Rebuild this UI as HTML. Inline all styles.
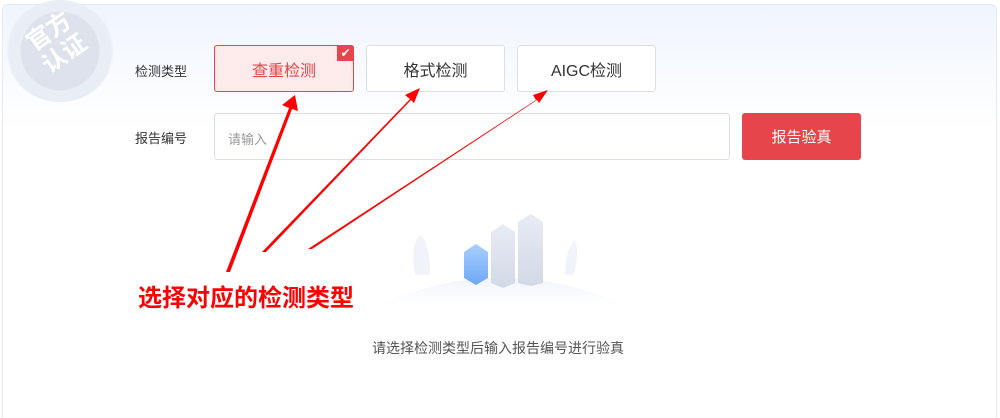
<!DOCTYPE html>
<html><head><meta charset="utf-8"><style>
html,body{margin:0;width:1000px;height:418px;overflow:hidden}
body{background:#fff;font-family:"Liberation Sans","Noto Sans CJK SC",sans-serif;position:relative}
.card{position:absolute;left:2px;top:4px;width:993px;height:414px;border:1px solid #e6eaf2;border-bottom:none;border-radius:6px 6px 0 0;background:linear-gradient(180deg,#f0f5fd 0%,#fff 30%)}
.abs{position:absolute}
.lbl{font-size:13px;color:#333}
.btn{position:absolute;top:45px;height:47px;border:1px solid #dcdfe6;border-radius:3px;background:#fff;font-size:16px;color:#333;display:flex;align-items:center;justify-content:center;box-sizing:border-box}
</style></head><body>
<div class="card"></div>
<div class="abs" style="left:5px;top:0px;width:110px;height:102px;border-radius:50%;background:radial-gradient(circle,#dde2ed 0 52%,#e9edf5 53% 68%,rgba(240,243,249,0) 72%)"></div>
<div class="abs" style="left:22px;top:16px;font-size:24px;color:#fff;font-weight:bold;transform:rotate(-35deg);line-height:27px;width:70px;text-align:center">官方<br>认证</div>
<div class="abs lbl" style="left:135px;top:61px">检测类型</div>
<div class="abs lbl" style="left:135px;top:128px">报告编号</div>
<div class="btn" style="left:214px;width:140px;background:#fdeaea;border-color:#e5454b;color:#e5454b">查重检测</div>
<div class="abs" style="left:337px;top:45px;width:17px;height:16px;background:#e5454b;border-radius:0 3px 0 0;color:#fff;font-size:12px;line-height:16px;text-align:center">✔</div>
<div class="btn" style="left:366px;width:139px">格式检测</div>
<div class="btn" style="left:517px;width:139px">AIGC检测</div>
<div class="abs" style="left:214px;top:113px;width:516px;height:47px;border:1px solid #dcdfe6;border-radius:3px;box-sizing:border-box;font-size:13px;color:#999;padding:15px 13px">请输入</div>
<div class="abs" style="left:742px;top:113px;width:119px;height:47px;background:#e5454b;border-radius:3px;color:#fff;font-size:15px;display:flex;align-items:center;justify-content:center">报告验真</div>
<svg class="abs" style="left:0;top:0" width="1000" height="418">
<defs><linearGradient id="g1" x1="0" y1="0" x2="0" y2="1"><stop offset="0" stop-color="#a9cfff"/><stop offset="1" stop-color="#6fa8f5"/></linearGradient>
<linearGradient id="g2" x1="0" y1="0" x2="0" y2="1"><stop offset="0" stop-color="#e8ecf5"/><stop offset="1" stop-color="#d2d8e6"/></linearGradient>
<linearGradient id="g3" x1="0" y1="0" x2="0" y2="1"><stop offset="0" stop-color="#f1f4fa"/><stop offset="1" stop-color="#fff"/></linearGradient></defs>
<path d="M380 305 Q500 250 625 305 Z" fill="url(#g3)"/>
<path d="M415 275 q-5 -30 5 -40 q10 5 10 40z" fill="#f0f3f9"/>
<path d="M565 275 q0 -25 10 -35 q5 15 -2 35z" fill="#f0f3f9"/>
<polygon points="464,252 476,244 488,252 488,278 476,285 464,278" fill="url(#g1)"/>
<polygon points="491,232 503,224 515,232 515,283 503,288 491,283" fill="url(#g2)"/>
<polygon points="518,222 531,214 543,222 543,283 531,286 518,283" fill="url(#g2)"/>
<g fill="#ff0000">
<polygon points="226,272 289,108 282,105 295,95 298,111 292,109 230,272"/>
<polygon points="262,252 410,99 405,95 420,88 414,103 411,100 266,252"/>
<polygon points="308,249 536,100 533,95 548,90 539,103 537,100 312,249"/>
</g>
</svg>
<div class="abs" style="left:138px;top:278px;font-size:24px;font-weight:bold;color:#f00">选择对应的检测类型</div>
<div class="abs" style="left:0;width:996px;top:338px;text-align:center;font-size:14px;color:#555">请选择检测类型后输入报告编号进行验真</div>
</body></html>
